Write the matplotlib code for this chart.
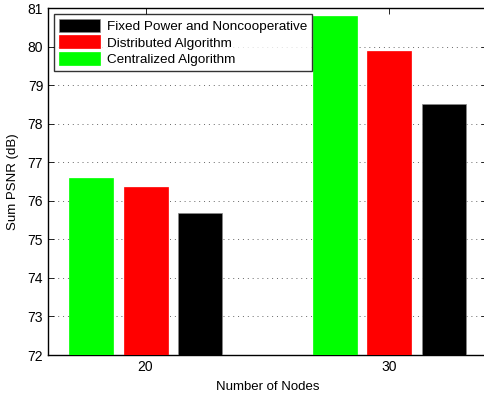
import matplotlib
matplotlib.use("Agg")
import matplotlib.pyplot as plt
import numpy as np

plt.rcParams['font.family'] = ['Liberation Sans', 'DejaVu Sans']

categories = [20, 30]
series_names = ["Centralized Algorithm", "Distributed Algorithm", "Fixed Power and Noncooperative"]
centralized = [76.58, 80.79]
distributed = [76.36, 79.88]
fixed = [75.69, 78.51]
colors = ["#00ff00", "#ff0000", "#000000"]

fig = plt.figure(figsize=(4.84, 3.94), dpi=100)
ax = fig.add_axes([48/484, 1-355/394, 439/484, 347/394])

x = np.array(categories, dtype=float)
offsets = [-2.22, 0.0, 2.22]
width = 1.8
handles = []
for vals, off, c, name in zip([centralized, distributed, fixed], offsets, colors, series_names):
    b = ax.bar(x + off, np.array(vals) - 72, width=width, bottom=72, color=c,
               edgecolor='#888888' if c == "#000000" else c, linewidth=0.5, label=name, zorder=3)
    handles.append(b)

ax.set_xlim(16, 34)
ax.set_ylim(72, 81)
ax.set_xticks(categories)
ax.set_yticks(np.arange(72, 82, 1))
ax.tick_params(direction='in', top=True, right=True, labelsize=10, length=4, width=0.6)
ax.yaxis.grid(True, linestyle=(0, (1, 4)), color='#666666', linewidth=0.7, zorder=0)
ax.set_axisbelow(True)
for s in ax.spines.values():
    s.set_linewidth(1.0)
ax.set_xlabel("Number of Nodes", fontsize=9.5, labelpad=5)
ax.set_ylabel("Sum PSNR (dB)", fontsize=9.5, labelpad=6)

leg = ax.legend(handles=handles[::-1], labels=series_names[::-1], loc='upper left',
                bbox_to_anchor=((54-48)/439, (355-14)/347), fontsize=9.7, frameon=True, fancybox=False,
                edgecolor='black', borderpad=0.35, labelspacing=0.2, handlelength=3.1,
                handleheight=1.1, handletextpad=0.5, borderaxespad=0)
leg.get_frame().set_linewidth(1.0)
leg.set_zorder(10)

fig.savefig("out.png", dpi=100)
